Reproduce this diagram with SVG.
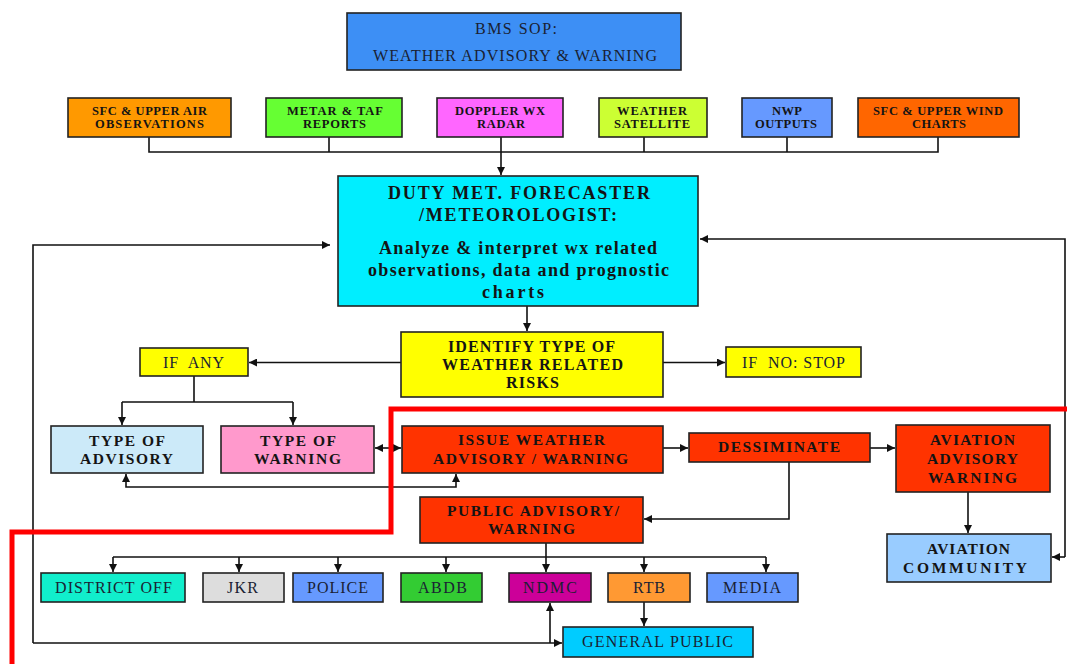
<svg xmlns="http://www.w3.org/2000/svg" width="1067" height="664" viewBox="0 0 1067 664">
<defs>
<marker id="ah" viewBox="0 0 10 10" refX="10" refY="5" markerWidth="8" markerHeight="8" markerUnits="userSpaceOnUse" orient="auto-start-reverse">
<path d="M0,0 L10,5 L0,10 z" fill="#111"/>
</marker>
<style>
.b{stroke:#222;stroke-width:1.6}
.t{font-family:"Liberation Serif","Times New Roman",serif;fill:#141414;font-weight:bold;font-size:15.5px}
.n{font-family:"Liberation Serif","Times New Roman",serif;fill:#1a1f33;font-size:16px}
.s{font-size:12.5px}
.d{font-size:18px}
.c{fill:none;stroke:#111;stroke-width:1.6}
.a{marker-end:url(#ah)}
.aa{marker-end:url(#ah);marker-start:url(#ah)}
</style>
</defs>
<rect width="1067" height="664" fill="#ffffff"/>

<g id="connectors">
<path class="c" d="M149 137V152H938V137M329 137V152M644 137V152M787 137V152"/>
<path class="c a" d="M501 137V175"/>
<path class="c a" d="M527 306V331"/>
<path class="c a" d="M401 362.5H249"/>
<path class="c a" d="M663 362.5H725"/>
<path class="c" d="M194 376V402M122 402H293"/>
<path class="c a" d="M122 402V425"/>
<path class="c a" d="M293 402V425"/>
<path class="c aa" d="M375 448H401"/>
<path class="c aa" d="M126 474V487H456V474"/>
<path class="c a" d="M663 448H688"/>
<path class="c a" d="M870 448H895"/>
<path class="c a" d="M789 462V519H644"/>
<path class="c a" d="M968 492V533"/>
<path class="c" d="M113 557H766"/>
<path class="c a" d="M546 543V572"/>
<path class="c a" d="M113 557V572"/>
<path class="c a" d="M239 557V572"/>
<path class="c a" d="M338 557V572"/>
<path class="c a" d="M446 557V572"/>
<path class="c a" d="M644 557V572"/>
<path class="c a" d="M766 557V572"/>
<path class="c a" d="M644 602V626"/>
<path class="c a" d="M33 643V245H330"/>
<path class="c a" d="M33 643H562"/>
<path class="c a" d="M550 643V603"/>
<path class="c a" d="M1065 557V239H700"/>
<path class="c a" d="M1065 557H1052"/>
</g>

<g id="n-top"><rect class="b" x="347" y="13" width="334" height="57" fill="#3d8ff5"/>
<text class="n" x="475" y="34" textLength="82" lengthAdjust="spacing">BMS SOP:</text>
<text class="n" x="373" y="61" textLength="284" lengthAdjust="spacing">WEATHER ADVISORY &amp; WARNING</text></g>

<g id="n-sfc"><rect class="b" x="68" y="98" width="163" height="39" fill="#ff9900"/>
<text class="t s" x="92" y="115" textLength="115" lengthAdjust="spacing">SFC &amp; UPPER AIR</text>
<text class="t s" x="95" y="128" textLength="109" lengthAdjust="spacing">OBSERVATIONS</text></g>
<g id="n-metar"><rect class="b" x="266" y="98" width="136" height="39" fill="#66ff33"/>
<text class="t s" x="287" y="115" textLength="96" lengthAdjust="spacing">METAR &amp; TAF</text>
<text class="t s" x="303" y="128" textLength="63" lengthAdjust="spacing">REPORTS</text></g>
<g id="n-doppler"><rect class="b" x="437" y="98" width="126" height="39" fill="#ff66ff"/>
<text class="t s" x="455" y="115" textLength="90" lengthAdjust="spacing">DOPPLER WX</text>
<text class="t s" x="477" y="128" textLength="48" lengthAdjust="spacing">RADAR</text></g>
<g id="n-sat"><rect class="b" x="599" y="98" width="108" height="39" fill="#ccff33"/>
<text class="t s" x="617" y="115" textLength="70" lengthAdjust="spacing">WEATHER</text>
<text class="t s" x="614" y="128" textLength="76" lengthAdjust="spacing">SATELLITE</text></g>
<g id="n-nwp"><rect class="b" x="742" y="98" width="90" height="39" fill="#6699ff"/>
<text class="t s" x="772" y="115" textLength="30" lengthAdjust="spacing">NWP</text>
<text class="t s" x="755" y="128" textLength="62" lengthAdjust="spacing">OUTPUTS</text></g>
<g id="n-wind"><rect class="b" x="858" y="98" width="161" height="39" fill="#ff6600"/>
<text class="t s" x="873" y="115" textLength="130" lengthAdjust="spacing">SFC &amp; UPPER WIND</text>
<text class="t s" x="912" y="128" textLength="54" lengthAdjust="spacing">CHARTS</text></g>

<g id="n-duty"><rect class="b" x="338" y="176" width="360" height="130" fill="#00eeff"/>
<text class="t d" x="388" y="199" textLength="262" lengthAdjust="spacing">DUTY MET. FORECASTER</text>
<text class="t d" x="419" y="221" textLength="198" lengthAdjust="spacing">/METEOROLOGIST:</text>
<text class="t d" x="379" y="254" textLength="278" lengthAdjust="spacing">Analyze &amp; interpret wx related</text>
<text class="t d" x="368" y="276" textLength="301" lengthAdjust="spacing">observations, data and prognostic</text>
<text class="t d" x="482" y="298" textLength="62" lengthAdjust="spacing">charts</text></g>

<g id="n-identify"><rect class="b" x="401" y="332" width="262" height="65" fill="#ffff00"/>
<text class="t" x="448" y="352" textLength="167" lengthAdjust="spacing" style="font-size:16px">IDENTIFY TYPE OF</text>
<text class="t" x="442" y="370" textLength="181" lengthAdjust="spacing" style="font-size:16px">WEATHER RELATED</text>
<text class="t" x="506" y="388" textLength="53" lengthAdjust="spacing" style="font-size:16px">RISKS</text></g>

<g id="n-ifany"><rect class="b" x="140" y="348" width="108" height="28" fill="#ffff00"/>
<text class="n" x="163" y="368" textLength="61" lengthAdjust="spacing" xml:space="preserve">IF  ANY</text></g>
<g id="n-ifno"><rect class="b" x="726" y="347" width="135" height="30" fill="#ffff00"/>
<text class="n" x="742" y="368" textLength="103" lengthAdjust="spacing" xml:space="preserve">IF  NO: STOP</text></g>

<g id="n-typeadv"><rect class="b" x="51" y="426" width="152" height="47" fill="#cceaf9"/>
<text class="t" x="89" y="446" textLength="76" lengthAdjust="spacing">TYPE OF</text>
<text class="t" x="80" y="464" textLength="93" lengthAdjust="spacing">ADVISORY</text></g>
<g id="n-typewarn"><rect class="b" x="221" y="426" width="153" height="47" fill="#ff99cc"/>
<text class="t" x="260" y="446" textLength="76" lengthAdjust="spacing">TYPE OF</text>
<text class="t" x="254" y="464" textLength="87" lengthAdjust="spacing">WARNING</text></g>
<g id="n-issue"><rect class="b" x="402" y="426" width="261" height="47" fill="#ff3300"/>
<text class="t" x="458" y="445" textLength="147" lengthAdjust="spacing">ISSUE WEATHER</text>
<text class="t" x="433" y="464" textLength="195" lengthAdjust="spacing">ADVISORY / WARNING</text></g>
<g id="n-dess"><rect class="b" x="689" y="433" width="181" height="29" fill="#ff3300"/>
<text class="t" x="718" y="452" textLength="122" lengthAdjust="spacing">DESSIMINATE</text></g>
<g id="n-avadv"><rect class="b" x="896" y="425" width="154" height="67" fill="#ff3300"/>
<text class="t" x="930" y="445" textLength="85" lengthAdjust="spacing">AVIATION</text>
<text class="t" x="927" y="464" textLength="91" lengthAdjust="spacing">ADVISORY</text>
<text class="t" x="928" y="483" textLength="89" lengthAdjust="spacing">WARNING</text></g>
<g id="n-avcomm"><rect class="b" x="887" y="534" width="164" height="48" fill="#99ccff"/>
<text class="t" x="927" y="554" textLength="83" lengthAdjust="spacing">AVIATION</text>
<text class="t" x="903" y="573" textLength="124" lengthAdjust="spacing">COMMUNITY</text></g>
<g id="n-public"><rect class="b" x="420" y="497" width="223" height="46" fill="#ff3300"/>
<text class="t" x="447" y="516" textLength="172" lengthAdjust="spacing">PUBLIC ADVISORY/</text>
<text class="t" x="488" y="534" textLength="87" lengthAdjust="spacing">WARNING</text></g>

<g id="n-district"><rect class="b" x="41" y="573" width="144" height="29" fill="#11eecc"/>
<text class="n" x="55" y="593" textLength="117" lengthAdjust="spacing">DISTRICT OFF</text></g>
<g id="n-jkr"><rect class="b" x="203" y="573" width="81" height="29" fill="#dddddd"/>
<text class="n" x="227" y="593" textLength="31" lengthAdjust="spacing">JKR</text></g>
<g id="n-police"><rect class="b" x="293" y="573" width="90" height="29" fill="#6699ff"/>
<text class="n" x="307" y="593" textLength="61" lengthAdjust="spacing">POLICE</text></g>
<g id="n-abdb"><rect class="b" x="401" y="573" width="81" height="29" fill="#33cc33"/>
<text class="n" x="418" y="593" textLength="49" lengthAdjust="spacing">ABDB</text></g>
<g id="n-ndmc"><rect class="b" x="509" y="573" width="82" height="29" fill="#cc0099"/>
<text class="n" x="523" y="593" textLength="54" lengthAdjust="spacing">NDMC</text></g>
<g id="n-rtb"><rect class="b" x="608" y="573" width="82" height="29" fill="#ff9933"/>
<text class="n" x="633" y="593" textLength="32" lengthAdjust="spacing">RTB</text></g>
<g id="n-media"><rect class="b" x="707" y="573" width="91" height="29" fill="#6699ff"/>
<text class="n" x="723" y="593" textLength="58" lengthAdjust="spacing">MEDIA</text></g>
<g id="n-gp"><rect class="b" x="563" y="627" width="190" height="30" fill="#00ccff"/>
<text class="n" x="582" y="647" textLength="151" lengthAdjust="spacing">GENERAL PUBLIC</text></g>

<path id="red-boundary" d="M12 664V532H391V409H1067" fill="none" stroke="#ff0000" stroke-width="5"/>
</svg>
